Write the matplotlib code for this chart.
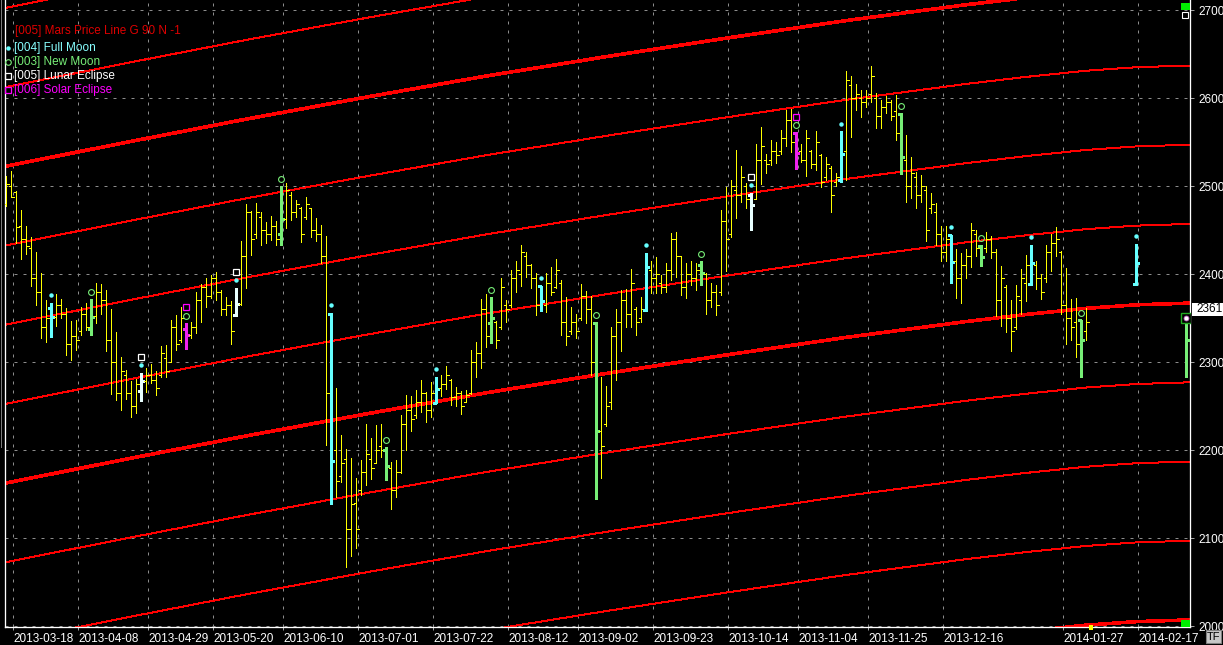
import matplotlib
matplotlib.use('Agg')
import matplotlib.pyplot as plt
from matplotlib.patches import Rectangle
from matplotlib.lines import Line2D
import numpy as np

plt.rcParams['font.family'] = ['Liberation Sans', 'DejaVu Sans']

W, H = 1223, 645
PX = 72 / 100  # one pixel in points

# daily bars, one per trading-day slot (slot 0 = first bar on the left)
highs = [
    2511, 2517, 2494, 2473, 2455, 2442, 2425, 2401, 2370, 2367,
    2377, 2372, 2361, 2347, 2348, 2363, 2367, 2372, 2390, 2389,
    2382, 2360, 2334, 2306, 2291, 2279, 2281, 2288, 2293, 2298,
    2290, 2318, 2319, 2348, 2353, 2363, 2344, 2345, 2380, 2389,
    2395, 2399, 2402, 2382, 2374, 2369, 2384, 2437,
    2480, 2472, 2481, 2470, 2459, 2466, 2460, 2500, 2504, 2493,
    2484, 2476, 2488, 2475, 2464, 2456, 2443, 2356, 2271, 2217,
    2201, 2191, 2168, 2189, 2230, 2214, 2228, 2230, 2203, 2186,
    2189, 2240, 2262, 2261, 2268, 2280, 2266, 2277, 2283, 2285,
    2296, 2281, 2272, 2267, 2268, 2314, 2323, 2372,
    2377, 2374, 2347, 2395, 2370, 2405, 2415, 2433, 2425, 2411,
    2401, 2386, 2401, 2408, 2417, 2393, 2374, 2363, 2355, 2389,
    2381, 2375, 2345, 2283, 2273, 2340, 2360, 2382, 2383, 2406,
    2363, 2374, 2424, 2415, 2419, 2399, 2413, 2447, 2448, 2420,
    2412, 2415, 2412, 2415, 2401, 2390, 2387, 2473,
    2499, 2507, 2541, 2523, 2504, 2492, 2548, 2567, 2536, 2552,
    2550, 2564, 2586, 2588, 2561, 2548, 2564, 2541, 2563, 2536,
    2533, 2523, 2515, 2562, 2631, 2625, 2616, 2609, 2609, 2636,
    2606, 2598, 2602, 2598, 2603, 2583, 2558, 2533, 2516, 2512,
    2500, 2492, 2481, 2455, 2455, 2444, 2428, 2424,
    2428, 2458, 2450, 2433, 2448, 2443, 2429, 2409, 2388, 2371,
    2387, 2406, 2422, 2433, 2415, 2400, 2433, 2445, 2453, 2426,
    2407, 2372, 2373, 2348, 2361,
]
lows = [
    2477, 2487, 2435, 2417, 2423, 2386, 2365, 2327, 2323, 2328,
    2341, 2350, 2308, 2302, 2314, 2331, 2336, 2331, 2344, 2355,
    2312, 2264, 2257, 2245, 2258, 2237, 2242, 2256, 2266, 2276,
    2262, 2283, 2283, 2300, 2314, 2323, 2315, 2327, 2333, 2346,
    2363, 2373, 2370, 2353, 2353, 2321, 2352, 2365,
    2384, 2422, 2441, 2433, 2435, 2439, 2433, 2433, 2452, 2461,
    2465, 2436, 2462, 2442, 2437, 2413, 2206, 2139, 2147, 2164,
    2067, 2080, 2089, 2149, 2160, 2167, 2185, 2192, 2166, 2133,
    2147, 2174, 2200, 2222, 2236, 2243, 2232, 2237, 2253, 2261,
    2269, 2251, 2250, 2241, 2255, 2264, 2283, 2293,
    2317, 2322, 2316, 2338, 2346, 2363, 2380, 2386, 2397, 2384,
    2353, 2358, 2357, 2376, 2384, 2331, 2319, 2332, 2327, 2348,
    2344, 2285, 2144, 2168, 2227, 2247, 2280, 2312, 2340, 2340,
    2331, 2346, 2358, 2378, 2378, 2378, 2380, 2393, 2397, 2376,
    2373, 2387, 2382, 2387, 2355, 2363, 2354, 2376,
    2403, 2442, 2464, 2482, 2475, 2450, 2485, 2502, 2515, 2524,
    2526, 2536, 2545, 2539, 2519, 2527, 2511, 2520, 2518, 2499,
    2507, 2471, 2500, 2505, 2507, 2556, 2586, 2578, 2590, 2596,
    2566, 2566, 2583, 2575, 2552, 2514, 2482, 2486, 2475, 2482,
    2437, 2469, 2433, 2415, 2415, 2390, 2373, 2367,
    2395, 2408, 2420, 2409, 2425, 2418, 2352, 2341, 2334, 2313,
    2338, 2355, 2369, 2388, 2383, 2372, 2391, 2403, 2420, 2355,
    2321, 2325, 2306, 2283, 2325,
]
opens = [
    2480, 2500, 2493, 2455, 2440, 2430, 2395, 2380, 2340, 2361,
    2351, 2365, 2355, 2320, 2330, 2335, 2355, 2338, 2352, 2380,
    2370, 2325, 2300, 2265, 2285, 2265, 2250, 2267, 2278, 2285,
    2280, 2285, 2305, 2300, 2340, 2325, 2338, 2331, 2340, 2370,
    2385, 2375, 2395, 2380, 2360, 2365, 2353, 2366,
    2420, 2470, 2445, 2465, 2450, 2445, 2455, 2446, 2463, 2490,
    2470, 2475, 2465, 2475, 2450, 2445, 2420, 2355, 2200, 2170,
    2190, 2110, 2140, 2155, 2175, 2190, 2185, 2205, 2200, 2180,
    2155, 2175, 2230, 2245, 2240, 2255, 2265, 2245, 2254, 2270,
    2275, 2280, 2260, 2265, 2255, 2265, 2300, 2310,
    2360, 2344, 2345, 2340, 2365, 2365, 2395, 2400, 2420, 2410,
    2395, 2386, 2365, 2390, 2385, 2390, 2345, 2335, 2345, 2350,
    2375, 2360, 2344, 2222, 2230, 2255, 2330, 2345, 2370, 2355,
    2360, 2350, 2359, 2405, 2395, 2390, 2385, 2405, 2440, 2420,
    2385, 2400, 2395, 2410, 2400, 2370, 2380, 2380,
    2460, 2445, 2495, 2490, 2500, 2490, 2485, 2530, 2530, 2530,
    2540, 2540, 2555, 2575, 2560, 2540, 2530, 2540, 2525, 2535,
    2510, 2520, 2505, 2507, 2540, 2615, 2600, 2600, 2595, 2605,
    2600, 2580, 2590, 2595, 2585, 2582, 2530, 2500, 2510, 2490,
    2495, 2475, 2470, 2445, 2425, 2444, 2415, 2395,
    2410, 2420, 2445, 2432, 2430, 2440, 2425, 2370, 2385, 2350,
    2340, 2370, 2390, 2389, 2410, 2395, 2395, 2425, 2435, 2425,
    2365, 2350, 2345, 2348, 2335,
]
closes = [
    2502, 2488, 2454, 2440, 2432, 2395, 2380, 2340, 2350, 2351,
    2365, 2355, 2320, 2330, 2325, 2355, 2340, 2351, 2380, 2370,
    2325, 2300, 2265, 2290, 2265, 2250, 2275, 2278, 2285, 2280,
    2270, 2310, 2290, 2340, 2320, 2350, 2331, 2340, 2370, 2385,
    2375, 2395, 2380, 2360, 2365, 2335, 2366, 2420,
    2470, 2440, 2470, 2450, 2445, 2455, 2440, 2463, 2495, 2470,
    2480, 2445, 2480, 2450, 2445, 2420, 2265, 2187, 2165, 2185,
    2110, 2139, 2110, 2175, 2195, 2180, 2200, 2200, 2182, 2155,
    2175, 2230, 2245, 2235, 2255, 2265, 2245, 2265, 2269, 2275,
    2285, 2260, 2265, 2250, 2262, 2300, 2310, 2360,
    2330, 2350, 2325, 2385, 2360, 2395, 2405, 2425, 2410, 2395,
    2365, 2369, 2390, 2380, 2405, 2345, 2330, 2345, 2335, 2375,
    2360, 2300, 2222, 2205, 2250, 2330, 2345, 2370, 2355, 2390,
    2345, 2360, 2408, 2395, 2400, 2385, 2405, 2440, 2420, 2385,
    2400, 2395, 2405, 2401, 2370, 2380, 2365, 2460,
    2440, 2500, 2490, 2510, 2485, 2479, 2530, 2545, 2525, 2540,
    2535, 2555, 2575, 2550, 2538, 2530, 2555, 2525, 2550, 2505,
    2525, 2490, 2510, 2536, 2620, 2600, 2605, 2595, 2600, 2625,
    2580, 2590, 2595, 2580, 2560, 2533, 2500, 2515, 2490, 2500,
    2450, 2480, 2445, 2425, 2440, 2414, 2395, 2410,
    2420, 2450, 2430, 2419, 2440, 2425, 2370, 2395, 2350, 2335,
    2375, 2395, 2410, 2412, 2395, 2380, 2425, 2435, 2440, 2365,
    2350, 2340, 2320, 2325, 2345,
]

# projected moon bars after the last session
future_slots = [226, 236]
future_high = [2434, 2348]
future_low = [2388, 2283]
future_open = [2389, 2348]
future_close = [2412, 2325]

# event days (slot numbers)
full_moon = [9, 65, 86, 107, 128, 167, 189, 205, 226]
new_moon = [17, 55, 76, 97, 118, 139, 179, 195, 215, 236]
lunar_eclipse = [27, 46, 149]
solar_eclipse = [36, 158]

# Mars price line (thick base line), read at a few slots
mars_slots = [0, 23, 48, 72, 96, 120, 144, 168, 192, 204, 216, 226, 237]
mars_base = [2162.5, 2188.5, 2216, 2241, 2265, 2287, 2308, 2328, 2346, 2354, 2361, 2365, 2367]
mars_step = 90

date_slots = [1.4, 14.4, 28.4, 41.4, 55.4, 70.4, 85.4, 100.4, 114.4, 129.4,
              144.4, 158.4, 172.4, 187.4, 211.4, 226.4]
date_labels = ['2013-03-18', '2013-04-08', '2013-04-29', '2013-05-20', '2013-06-10',
               '2013-07-01', '2013-07-22', '2013-08-12', '2013-09-02', '2013-09-23',
               '2013-10-14', '2013-11-04', '2013-11-25', '2013-12-16', '2014-01-27',
               '2014-02-17']

YELLOW = '#ffff00'
CYAN = '#66ffff'
GREEN = '#77ee77'
WHITE = '#e8ffff'
MAGENTA = '#ee22ee'


def fx(x):
    return x / W


def fy(y):
    return 1 - y / H


fig = plt.figure(figsize=(W / 100, H / 100), dpi=100, facecolor='black')
ax = fig.add_axes([fx(5), 18 / H, (1190 - 5) / W, (H - 18) / H])
ax.set_facecolor('black')
ax.set_xlim(-0.2, 236.8)
ax.set_ylim(1998.9, 2711.4)

# Mars price lines, 90 points apart, every 4th one thick
base = np.array(mars_base)
for n in range(-4, 7):
    thick = n % 4 == 0
    ax.plot(mars_slots, base + n * mars_step, color='#ff0000',
            lw=(2.6 if thick else 1.0) * PX, zorder=2, antialiased=False)

# bars
slots = list(range(len(highs))) + future_slots
hi = highs + future_high
lo = lows + future_low
op = opens + future_open
cl = closes + future_close
cmap = {}
for k in full_moon:
    cmap[k] = CYAN
for k in new_moon:
    cmap[k] = GREEN
for k in lunar_eclipse:
    cmap[k] = WHITE
for k in solar_eclipse:
    cmap[k] = MAGENTA

for k, h, l, o, c in zip(slots, hi, lo, op, cl):
    col = cmap.get(k, YELLOW)
    lw = (3 if k in cmap else 1.0) * PX
    tick = 0.6 if k in cmap else 0.5
    ax.vlines(k, l, h, colors=col, lw=lw, zorder=4, antialiased=False)
    ax.hlines(o, k - tick, k, colors=col, lw=lw, zorder=4, antialiased=False)
    ax.hlines(c, k, k + tick, colors=col, lw=lw, zorder=4, antialiased=False)

# event markers above the bars
top = dict(zip(slots, hi))
for k in full_moon + lunar_eclipse:
    ax.plot(k, top[k] + 9, 'o', ms=3.2, color=CYAN, mec='none', zorder=5)
for k in new_moon[:-1] + solar_eclipse:
    ax.plot(k, top[k] + 8, 'o', ms=4.2, mfc='none', mec=GREEN, mew=0.8, zorder=5)
for k in lunar_eclipse:
    ax.plot(k, top[k] + 18, 's', ms=4.4, mfc='none', mec='white', mew=0.9, zorder=5)
for k in solar_eclipse:
    ax.plot(k, top[k] + 18, 's', ms=4.4, mfc='none', mec='#ff00ff', mew=0.9, zorder=5)
k_last = new_moon[-1]
ax.plot(k_last, top[k_last] + 2, 's', ms=7.5, mfc='black', mec='#22aa22', mew=1.0, zorder=6)
ax.plot(k_last, top[k_last] + 2, 'o', ms=3.5, mfc='white', mec='#cc66cc', mew=0.6, zorder=7)

# axes styling
ax.set_yticks(range(2000, 2701, 100))
ax.yaxis.tick_right()
ax.set_xticks(date_slots)
ax.set_xticklabels(date_labels)
for lab in ax.get_xticklabels():
    lab.set_ha('left')
ax.tick_params(axis='y', colors='#a0a0a0', labelcolor='white', length=3, width=PX,
               labelsize=8.5, pad=3)
ax.tick_params(axis='x', colors='#a0a0a0', labelcolor='white', length=2, width=PX,
               labelsize=8.5, pad=2)
ax.grid(True, color='#8c8c8c', linestyle=(0, (3, 6)), linewidth=PX, zorder=0)
ax.set_axisbelow(True)
ax.spines['top'].set_visible(False)
for side in ('left', 'bottom', 'right'):
    ax.spines[side].set_color('white')
    ax.spines[side].set_linewidth(1.3 * PX)

# legend block
fig.text(fx(15), fy(31), '[005] Mars Price Line G 90 N -1', color='#dd0000',
         fontsize=8.5, va='center')
legend_rows = [
    ('[004] Full Moon', '#88ffff', 48, dict(marker='o', ms=3.2, color=CYAN, mec='none')),
    ('[003] New Moon', '#77ee77', 62, dict(marker='o', ms=4, mfc='none', mec=GREEN, mew=0.8)),
    ('[005] Lunar Eclipse', 'white', 76, dict(marker='s', ms=4.2, mfc='none', mec='white', mew=0.9)),
    ('[006] Solar Eclipse', '#ff00ff', 90, dict(marker='s', ms=4.2, mfc='none', mec='#ff00ff', mew=0.9)),
]
for text, col, y, mk in legend_rows:
    fig.text(fx(14), fy(y), text, color=col, fontsize=8.5, va='center')
    fig.add_artist(Line2D([fx(8)], [fy(y)], transform=fig.transFigure, linestyle='none', **mk))

# last value box on the price scale
fig.add_artist(Rectangle((fx(1192), fy(316)), 31 / W, 13 / H, transform=fig.transFigure,
                         facecolor='white', edgecolor='none'))
fig.text(fx(1196), fy(309.5), '2361', color='black', fontsize=8.5, va='center')

# chart widgets
fig.add_artist(Rectangle((fx(1181), fy(10)), 9 / W, 7 / H, transform=fig.transFigure,
                         facecolor='#00ee00', edgecolor='none'))
fig.add_artist(Rectangle((fx(1182), fy(18)), 6 / W, 6 / H, transform=fig.transFigure,
                         facecolor='black', edgecolor='white', lw=0.8))
fig.add_artist(Rectangle((fx(1181), fy(627)), 9 / W, 7 / H, transform=fig.transFigure,
                         facecolor='#00ee00', edgecolor='none'))
fig.add_artist(Rectangle((fx(1089), fy(630)), 4 / W, 5 / H, transform=fig.transFigure,
                         facecolor='#ffff00', edgecolor='none'))
fig.add_artist(Rectangle((fx(1206), fy(643)), 15 / W, 13 / H, transform=fig.transFigure,
                         facecolor='#c8c8c8', edgecolor='#808080', lw=0.8))
fig.text(fx(1213.5), fy(636.5), 'TF', color='black', fontsize=8, ha='center', va='center')
fig.add_artist(Line2D([fx(0.5), fx(0.5)], [fy(0), fy(447)], transform=fig.transFigure,
                      color='#7a7a7a', lw=PX))

fig.savefig('out.png', dpi=100, facecolor='black')
